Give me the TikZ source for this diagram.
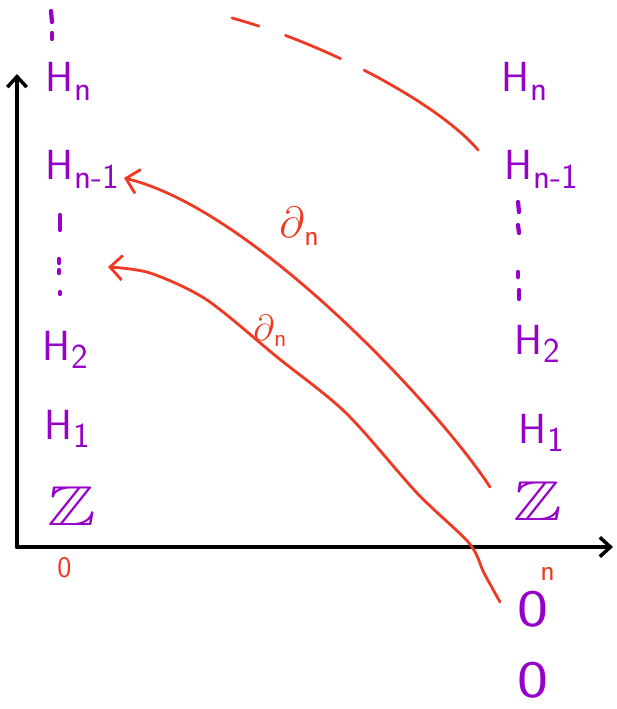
\documentclass[tikz,border=0pt]{standalone}
\usepackage{amssymb}
\usepackage{graphicx}
\usetikzlibrary{arrows.meta}
\definecolor{pur}{RGB}{150,0,200}
\definecolor{rd}{RGB}{238,58,36}
\newcommand\Hsub[1]{H\kern0.5pt\raisebox{-0.45ex}{\fontsize{20}{20}\selectfont #1}}
\begin{document}
\begin{tikzpicture}[x=0.02cm,y=-0.02cm,
  lab/.style={text=pur,font=\sffamily\fontsize{24}{24}\selectfont,inner sep=0pt,anchor=base west},
  zlab/.style={lab,font=\fontsize{32}{32}\selectfont},
  zerolab/.style={lab,font=\sffamily\fontsize{30}{30}\selectfont},
  rlab/.style={text=rd,inner sep=0pt,anchor=base west},
  redl/.style={draw=rd,line width=1.6pt,line cap=round},
  dotm/.style={draw=pur,line width=2.4pt,line cap=round},
  axis/.style={draw=black,line width=2.2pt,line cap=round},
  tip/.style={-{Straight Barb[length=7pt,width=14pt,line width=1.6pt]}},
  axtip/.style={-{Straight Barb[length=6pt,width=11pt,line width=2pt]}}]
\useasboundingbox (0,0) rectangle (617,709);
% axes
\coordinate (O) at (17,547);
\coordinate (ytop) at (17,74);
\coordinate (xend) at (613,547);
\draw[axis,axtip] (O) -- (ytop);
\draw[axis,axtip] (O) -- (xend);
% left column
\node[lab] (lHn) at (45,92) {\Hsub{n}};
\node[lab] (lHn1) at (45,180) {\Hsub{n-1}};
\node[lab] (lH2) at (42,360) {\Hsub{2}};
\node[lab] (lH1) at (44,439) {\Hsub{1}};
\node[zlab] (lZ) at (47,525) {\scalebox{1.3}[1]{$\mathbb{Z}$}};
% right column
\node[lab] (rHn) at (501,92) {\Hsub{n}};
\node[lab] (rHn1) at (504,180) {\Hsub{n-1}};
\node[lab] (rH2) at (514,354) {\Hsub{2}};
\node[lab] (rH1) at (518,443) {\Hsub{1}};
\node[zlab] (rZ) at (513,520) {\scalebox{1.3}[1]{$\mathbb{Z}$}};
\node[zerolab] (r0a) at (517,626) {\scalebox{1.25}[1]{0}};
\node[zerolab] (r0b) at (517,697) {\scalebox{1.25}[1]{0}};
% axis labels
\node[rlab,font=\sffamily\fontsize{17}{17}\selectfont] (x0) at (57,577) {0};
\node[rlab,font=\sffamily\fontsize{17}{17}\selectfont] (xn) at (540,580) {n};
% vertical dots
\draw[dotm] (51,11) -- (52,22);
\draw[dotm] (52,33) -- (52,39);
\draw[dotm] (60,215) -- (60,230);
\draw[dotm] (59,259) -- (59,263);
\draw[dotm] (59,270) -- (59,273);
\draw[dotm] (60,292) -- (60,294);
\draw[dotm] (518,202) -- (519,212);
\draw[dotm] (518,225) -- (519,233);
\draw[dotm] (518,272) -- (518,277);
\draw[dotm] (519,290) -- (519,299);
% red arrows
\coordinate (a1s) at (490,487);
\coordinate (a1e) at (124,178);
\draw[redl,tip] (a1s) .. controls (440,410) and (255,210) .. (a1e);
\coordinate (a2s) at (500,602);
\coordinate (a2e) at (108,267);
\draw[redl,tip] plot[smooth,tension=0.5] coordinates {(a2s) (484,573) (469,543) (417,493) (346,413) (277,357) (207,300) (150,273) (a2e)};
\node[rlab,font=\fontsize{24}{24}\selectfont] (d1) at (279,238) {$\partial$\raisebox{-0.4ex}{\sffamily\fontsize{17}{17}\selectfont n}};
\node[rlab,font=\fontsize{20}{20}\selectfont] (d2) at (253,340) {$\partial$\raisebox{-0.4ex}{\sffamily\fontsize{14}{14}\selectfont n}};
% dashed red curve at the top
\coordinate (c1s) at (232,18);
\coordinate (c1e) at (478,150);
\draw[redl,dash pattern=on 16pt off 16pt on 34pt off 15pt on 95pt] (c1s) .. controls (330,45) and (440,105) .. (c1e);
\end{tikzpicture}
\end{document}
